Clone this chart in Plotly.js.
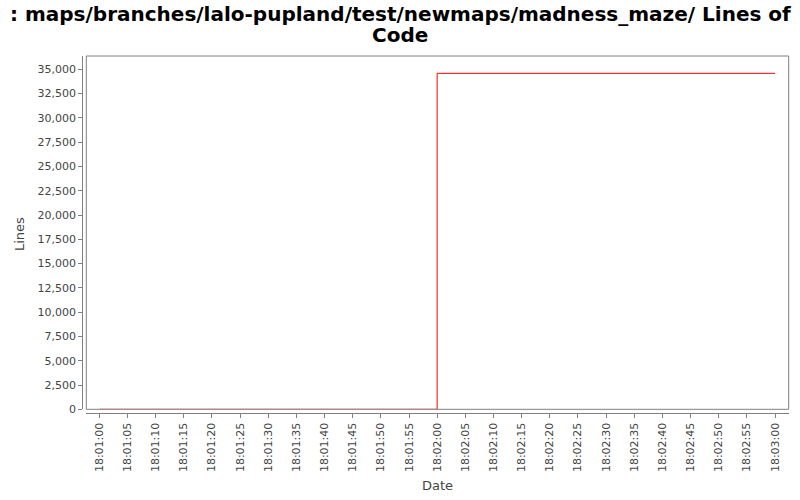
<!DOCTYPE html>
<html>
<head>
<meta charset="utf-8">
<script src="https://cdn.plot.ly/plotly-3.0.1.min.js"></script>
<style>html,body{margin:0;padding:0;background:#fff;}#chart{width:800px;height:500px;}</style>
</head>
<body>
<div id="chart"></div>
<script>
var dates = ['2000-01-01 18:01:00', '2000-01-01 18:02:00', '2000-01-01 18:03:00'];
var lines = [0, 34590, 34590];
var titleLines = [': maps/branches/lalo-pupland/test/newmaps/madness_maze/ Lines of', 'Code'];
var xTitle = 'Date';
var yTitle = 'Lines';

var W = 800, H = 500;
var plotL = 86.3, plotR = 788.7, plotT = 56, plotB = 409.3;
var yAxisX = 82.3, xAxisY = 413.3;

var trace = {
  x: dates, y: lines, type: 'scatter', mode: 'lines',
  line: {color: '#ff0000', width: 1, shape: 'hv'},
  hoverinfo: 'skip'
};

var tickFont = {family: 'DejaVu Sans', size: 11, color: '#444444'};
var titleFont = {family: 'DejaVu Sans', size: 20, color: '#000000', weight: 'bold'};
var layout = {
  width: W, height: H,
  margin: {l: 0, r: 0, t: 0, b: 0, pad: 0},
  paper_bgcolor: '#ffffff', plot_bgcolor: '#ffffff',
  showlegend: false,
  xaxis: {
    type: 'date', domain: [plotL / W, plotR / W],
    range: ['2000-01-01 18:00:57.69', '2000-01-01 18:03:02.43'],
    anchor: 'free', position: (H - xAxisY) / H,
    showgrid: false, zeroline: false, showline: true, linecolor: '#808080', linewidth: 1,
    ticks: 'outside', ticklen: 4, tickcolor: '#808080', tickwidth: 1,
    tickmode: 'linear', tick0: '2000-01-01 18:01:00', dtick: 5000,
    tickformat: '%H:%M:%S', tickangle: -90, tickfont: tickFont, automargin: false
  },
  yaxis: {
    domain: [(H - plotB) / H, (H - plotT) / H],
    range: [0, 36373],
    anchor: 'free', position: yAxisX / W,
    showgrid: false, zeroline: false, showline: true, linecolor: '#808080', linewidth: 1,
    ticks: 'outside', ticklen: 4, tickcolor: '#808080', tickwidth: 1,
    tickmode: 'linear', tick0: 0, dtick: 2500, tickformat: ',d',
    tickfont: tickFont, automargin: false
  },
  shapes: [{
    type: 'rect', xref: 'paper', yref: 'paper',
    x0: plotL / W, x1: plotR / W, y0: (H - plotB) / H, y1: (H - plotT) / H,
    line: {color: '#808080', width: 1}, fillcolor: 'rgba(0,0,0,0)', layer: 'above'
  }],
  annotations: [
    {text: titleLines[0], xref: 'paper', yref: 'paper', x: 0.5, y: (H - 14) / H,
     xanchor: 'center', yanchor: 'middle', showarrow: false, font: titleFont},
    {text: titleLines[1], xref: 'paper', yref: 'paper', x: 0.5, y: (H - 35) / H,
     xanchor: 'center', yanchor: 'middle', showarrow: false, font: titleFont},
    {text: xTitle, xref: 'paper', yref: 'paper', x: 437 / W, y: (H - 485) / H,
     xanchor: 'center', yanchor: 'middle', showarrow: false,
     font: {family: 'DejaVu Sans', size: 13, color: '#444444'}},
    {text: yTitle, xref: 'paper', yref: 'paper', x: 19 / W, y: (H - 234) / H,
     xanchor: 'center', yanchor: 'middle', showarrow: false, textangle: -90,
     font: {family: 'DejaVu Sans', size: 13, color: '#444444'}}
  ]
};

Plotly.newPlot('chart', [trace], layout, {staticPlot: true, displayModeBar: false});
</script>
</body>
</html>
